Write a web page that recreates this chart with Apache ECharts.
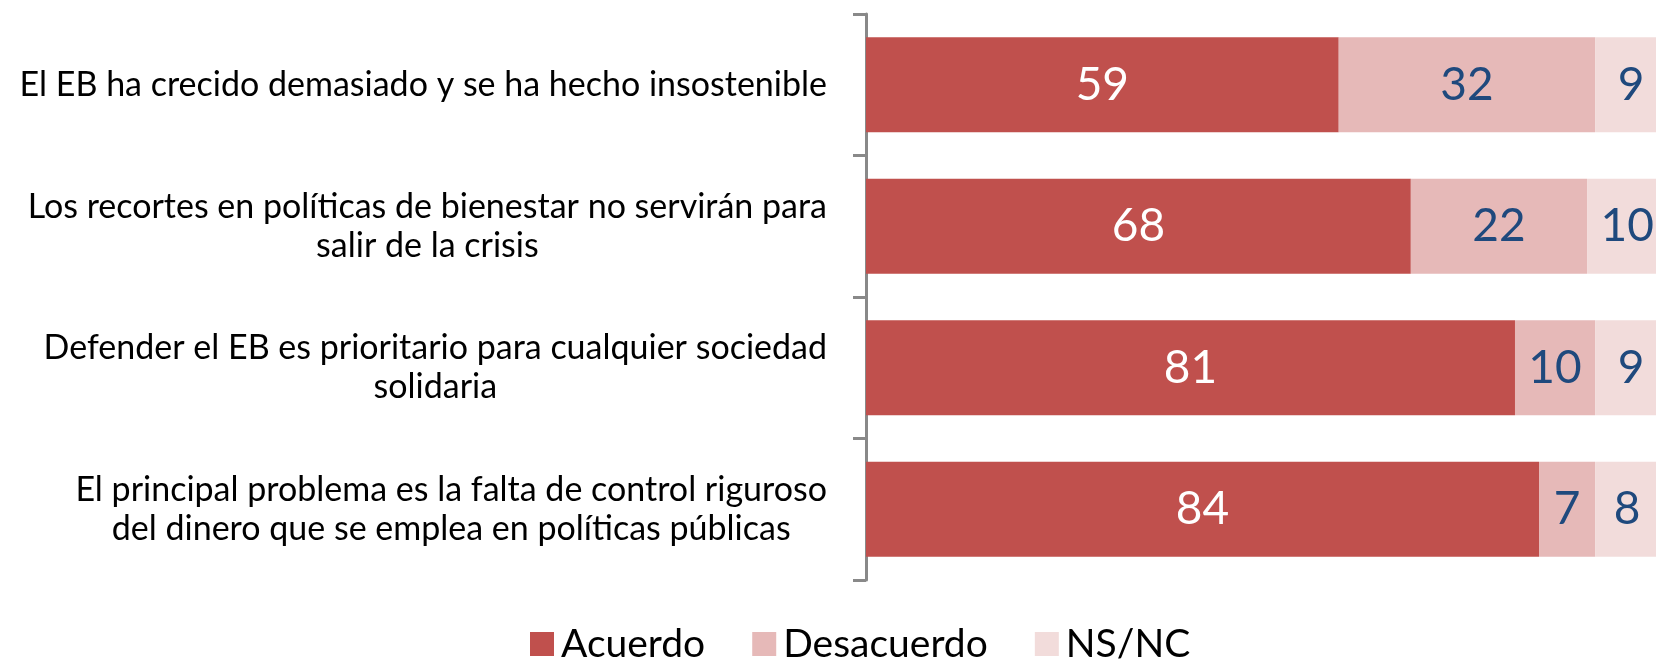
<!DOCTYPE html>
<html>
<head>
<meta charset="utf-8">
<script src="https://cdn.jsdelivr.net/npm/echarts@6/dist/echarts.min.js"></script>
<style>
  html, body { margin: 0; padding: 0; background: #fff; }
  #chart { width: 1656px; height: 661px; }
</style>
</head>
<body>
<div id="chart"></div>
<script>
// datos del gráfico
const categorias = [
    'El EB ha crecido demasiado y se ha hecho insostenible',
    'Los recortes en políticas de bienestar no servirán para\nsalir de la crisis',
    'Defender el EB es prioritario para cualquier sociedad\nsolidaria',
    'El principal problema es la falta de control riguroso\ndel dinero que se emplea en políticas públicas'
];
const acuerdo = [59, 68, 81, 84];
const desacuerdo = [32, 22, 10, 7];
const nsnc = [9, 10, 9, 8];

const fuente = 'Lato, "Open Sans", sans-serif';

function serie(nombre, datos, color, colorTexto) {
    return {
        name: nombre,
        type: 'bar',
        stack: 'total',
        data: datos,
        barWidth: 95,
        clip: false,
        itemStyle: { color: color },
        label: {
            show: true,
            position: 'inside',
            color: colorTexto,
            fontFamily: fuente,
            fontSize: 46,
            formatter: '{c}'
        }
    };
}

const chart = echarts.init(document.getElementById('chart'));
chart.setOption({
    animation: false,
    grid: { left: 866, right: 0, top: 14, height: 566, containLabel: false },
    legend: {
        left: 525,
        top: 619,
        icon: 'rect',
        itemWidth: 24,
        itemHeight: 24,
        itemGap: 47,
        textStyle: { fontFamily: fuente, fontSize: 39, lineHeight: 40, color: '#000', padding: [0, 0, 0, 2] },
        data: ['Acuerdo', 'Desacuerdo', 'NS/NC']
    },
    xAxis: {
        type: 'value',
        min: 0,
        // en el original el 100 queda fuera del borde derecho
        max: 98.6,
        show: false
    },
    yAxis: {
        type: 'category',
        inverse: true,
        data: categorias,
        axisLine: { show: true, lineStyle: { color: '#898989', width: 3 } },
        axisTick: { show: true, length: 13, lineStyle: { color: '#898989', width: 3 } },
        axisLabel: {
            margin: 39,
            formatter: function (v) {
                return v.split('\n').map(l => '{t|' + l + '}').join('\n');
            },
            rich: {
                t: { fontFamily: fuente, fontSize: 34, color: '#000', lineHeight: 39, align: 'center' }
            }
        }
    },
    series: [
        serie('Acuerdo', acuerdo, '#C0504D', '#fff'),
        serie('Desacuerdo', desacuerdo, '#E6B9B8', '#1F497D'),
        serie('NS/NC', nsnc, '#F2DCDB', '#1F497D')
    ]
});
</script>
</body>
</html>
